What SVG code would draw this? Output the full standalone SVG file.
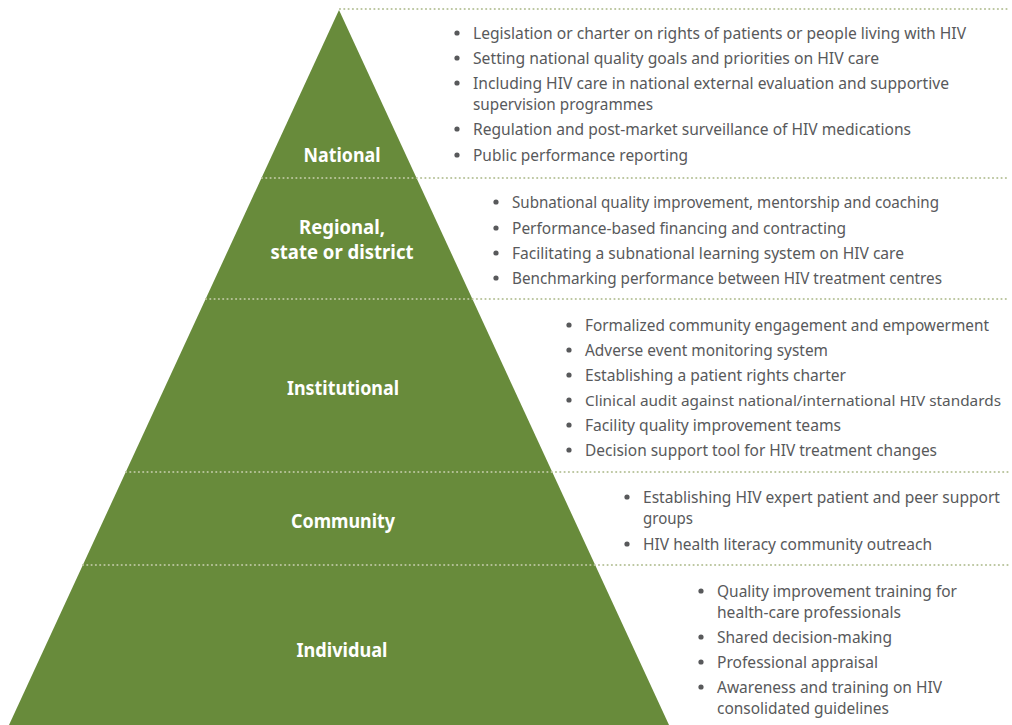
<svg xmlns="http://www.w3.org/2000/svg" width="1012" height="725" viewBox="0 0 1012 725">
<style>
.t{font-family:"Noto Sans","Open Sans","Liberation Sans",sans-serif;font-size:16px;fill:#58595b;}
.l{font-family:"Noto Sans","Open Sans","Liberation Sans",sans-serif;font-size:19px;font-weight:bold;fill:#ffffff;text-anchor:middle;}
.d{stroke:#b9c49c;stroke-width:2.2;stroke-linecap:round;stroke-dasharray:0 4.3;fill:none;}
.b{fill:#58595b;}
</style>
<rect width="1012" height="725" fill="#ffffff"/>
<polygon points="339,10 669,725 9,725" fill="#688b3b"/>
<g id="connectors">
<line class="d" x1="340" y1="9" x2="1008" y2="9"/>
<line class="d" x1="262" y1="178" x2="1008" y2="178"/>
<line class="d" x1="206" y1="299" x2="1008" y2="299"/>
<line class="d" x1="126" y1="472" x2="1008" y2="472"/>
<line class="d" x1="83" y1="565" x2="1008" y2="565"/>
</g>
<g id="national">
<text class="l" x="342" y="162" textLength="77" lengthAdjust="spacingAndGlyphs">National</text>
<circle class="b" cx="457" cy="33" r="2.6"/>
<text class="t" x="473" y="39" textLength="493" lengthAdjust="spacingAndGlyphs">Legislation or charter on rights of patients or people living with HIV</text>
<circle class="b" cx="457" cy="58" r="2.6"/>
<text class="t" x="473" y="64" textLength="406" lengthAdjust="spacingAndGlyphs">Setting national quality goals and priorities on HIV care</text>
<circle class="b" cx="457" cy="83" r="2.6"/>
<text class="t" x="473" y="89" textLength="476" lengthAdjust="spacingAndGlyphs">Including HIV care in national external evaluation and supportive</text>
<text class="t" x="473" y="110" textLength="180" lengthAdjust="spacingAndGlyphs">supervision programmes</text>
<circle class="b" cx="457" cy="129" r="2.6"/>
<text class="t" x="473" y="135" textLength="438" lengthAdjust="spacingAndGlyphs">Regulation and post-market surveillance of HIV medications</text>
<circle class="b" cx="457" cy="155" r="2.6"/>
<text class="t" x="473" y="161" textLength="215" lengthAdjust="spacingAndGlyphs">Public performance reporting</text>
</g>
<g id="regional">
<text class="l" x="342" y="234" textLength="86" lengthAdjust="spacingAndGlyphs">Regional,</text>
<text class="l" x="342" y="259" textLength="143" lengthAdjust="spacingAndGlyphs">state or district</text>
<circle class="b" cx="496" cy="202" r="2.6"/>
<text class="t" x="512" y="208" textLength="427" lengthAdjust="spacingAndGlyphs">Subnational quality improvement, mentorship and coaching</text>
<circle class="b" cx="496" cy="228" r="2.6"/>
<text class="t" x="512" y="234" textLength="334" lengthAdjust="spacingAndGlyphs">Performance-based financing and contracting</text>
<circle class="b" cx="496" cy="253" r="2.6"/>
<text class="t" x="512" y="259" textLength="392" lengthAdjust="spacingAndGlyphs">Facilitating a subnational learning system on HIV care</text>
<circle class="b" cx="496" cy="278" r="2.6"/>
<text class="t" x="512" y="284" textLength="430" lengthAdjust="spacingAndGlyphs">Benchmarking performance between HIV treatment centres</text>
</g>
<g id="institutional">
<text class="l" x="343" y="395" textLength="112" lengthAdjust="spacingAndGlyphs">Institutional</text>
<circle class="b" cx="569" cy="325" r="2.6"/>
<text class="t" x="585" y="331" textLength="404" lengthAdjust="spacingAndGlyphs">Formalized community engagement and empowerment</text>
<circle class="b" cx="569" cy="350" r="2.6"/>
<text class="t" x="585" y="356" textLength="243" lengthAdjust="spacingAndGlyphs">Adverse event monitoring system</text>
<circle class="b" cx="569" cy="375" r="2.6"/>
<text class="t" x="585" y="381" textLength="261" lengthAdjust="spacingAndGlyphs">Establishing a patient rights charter</text>
<circle class="b" cx="569" cy="400" r="2.6"/>
<text class="t" x="585" y="406" style="font-size:15.2px" textLength="416" lengthAdjust="spacingAndGlyphs">Clinical audit against national/international HIV standards</text>
<circle class="b" cx="569" cy="425" r="2.6"/>
<text class="t" x="585" y="431" textLength="256" lengthAdjust="spacingAndGlyphs">Facility quality improvement teams</text>
<circle class="b" cx="569" cy="450" r="2.6"/>
<text class="t" x="585" y="456" textLength="352" lengthAdjust="spacingAndGlyphs">Decision support tool for HIV treatment changes</text>
</g>
<g id="community">
<text class="l" x="343" y="528" textLength="104" lengthAdjust="spacingAndGlyphs">Community</text>
<circle class="b" cx="627" cy="497" r="2.6"/>
<text class="t" x="643" y="503" textLength="357" lengthAdjust="spacingAndGlyphs">Establishing HIV expert patient and peer support</text>
<text class="t" x="643" y="524" textLength="50" lengthAdjust="spacingAndGlyphs">groups</text>
<circle class="b" cx="627" cy="544" r="2.6"/>
<text class="t" x="643" y="550" textLength="289" lengthAdjust="spacingAndGlyphs">HIV health literacy community outreach</text>
</g>
<g id="individual">
<text class="l" x="342" y="657" textLength="91" lengthAdjust="spacingAndGlyphs">Individual</text>
<circle class="b" cx="701" cy="591" r="2.6"/>
<text class="t" x="717" y="597" textLength="240" lengthAdjust="spacingAndGlyphs">Quality improvement training for</text>
<text class="t" x="717" y="618" textLength="184" lengthAdjust="spacingAndGlyphs">health-care professionals</text>
<circle class="b" cx="701" cy="637" r="2.6"/>
<text class="t" x="717" y="643" textLength="175" lengthAdjust="spacingAndGlyphs">Shared decision-making</text>
<circle class="b" cx="701" cy="662" r="2.6"/>
<text class="t" x="717" y="668" textLength="161" lengthAdjust="spacingAndGlyphs">Professional appraisal</text>
<circle class="b" cx="701" cy="687" r="2.6"/>
<text class="t" x="717" y="693" textLength="225" lengthAdjust="spacingAndGlyphs">Awareness and training on HIV</text>
<text class="t" x="717" y="714" textLength="172" lengthAdjust="spacingAndGlyphs">consolidated guidelines</text>
</g>
</svg>
